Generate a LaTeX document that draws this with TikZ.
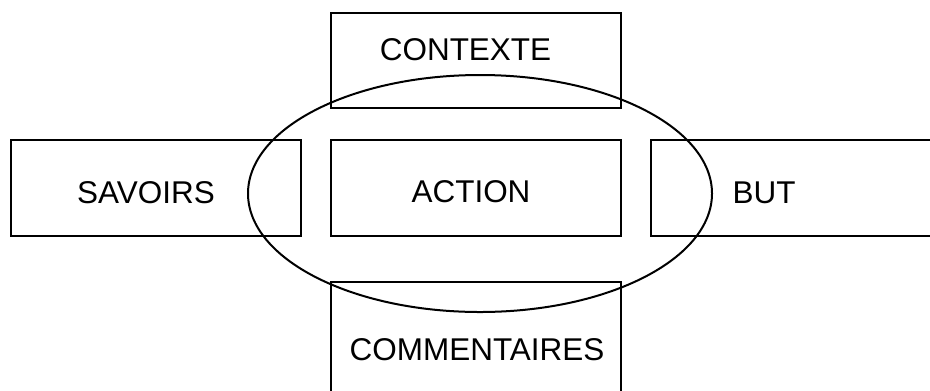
\documentclass[tikz,border=0pt]{standalone}
\usepackage{fontspec}
\setmainfont{Liberation Sans}
\begin{document}
\begin{tikzpicture}[x=0.75pt,y=-0.75pt,
  boxline/.style={draw=black,line width=1.5pt},
  lbl/.style={inner sep=0pt,font=\fontsize{23.6}{28}\selectfont}]
\clip (0,0) rectangle (930,390);
\fill[white] (0,0) rectangle (930,390);
% boxes
\draw[boxline] (331,13) rectangle (621,108);
\draw[boxline] (11,140) rectangle (301,236);
\draw[boxline] (331,140) rectangle (621,236);
\draw[boxline] (651,140) rectangle (945,236);
\draw[boxline] (331,282) rectangle (621,400);
% ellipse
\draw[boxline] (480,193.5) ellipse [x radius=232, y radius=118.5];
% labels
\node[lbl] (contexte) at (465.5,50) {CONTEXTE};
\node[lbl] (savoirs) at (146,193) {SAVOIRS};
\node[lbl] (action) at (471,192) {ACTION};
\node[lbl] (but) at (764,192.5) {BUT};
\node[lbl] (comm) at (477,350) {COMMENTAIRES};
\end{tikzpicture}
\end{document}
